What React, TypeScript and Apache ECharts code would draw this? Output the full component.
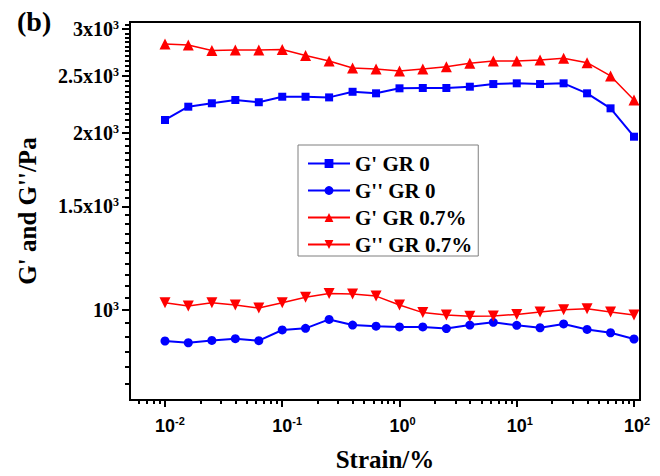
import React, { useEffect, useRef } from "react";
import * as echarts from "echarts";

// Strain (%) sampled at 5 points per decade
const strain = [
  0.01, 0.0158, 0.0251, 0.0398, 0.0631, 0.1, 0.158, 0.251, 0.398, 0.631, 1,
  1.58, 2.51, 3.98, 6.31, 10, 15.8, 25.1, 39.8, 63.1, 100,
];
const gPrimeGR0 = [
  2102, 2214, 2244, 2273, 2253, 2302, 2302, 2296, 2347, 2333, 2379, 2382, 2382,
  2394, 2419, 2426, 2419, 2426, 2333, 2200, 1969,
];
const gDoublePrimeGR0 = [
  886, 880, 888, 894, 887, 925, 931, 964, 943, 939, 936, 936, 930, 943, 953,
  942, 933, 947, 927, 915, 893,
];
const gPrimeGR07 = [
  2829, 2818, 2758, 2763, 2763, 2769, 2705, 2647, 2575, 2565, 2545, 2565, 2588,
  2623, 2647, 2647, 2657, 2675, 2630, 2497, 2273,
];
const gDoublePrimeGR07 = [
  1029, 1016, 1029, 1020, 1008, 1029, 1051, 1067, 1065, 1056, 1020, 990, 981,
  976, 977, 983, 992, 1001, 1005, 992, 981,
];

const seriesNames = ["G' GR 0", "G'' GR 0", "G' GR 0.7%", "G'' GR 0.7%"];

const xMajorTicks = [0.01, 0.1, 1, 10, 100];
const xTickExponents = ["-2", "-1", "0", "1", "2"];
const yMajorTicks = [1000, 1500, 2000, 2500, 3000];
const yTickMantissas = ["", "1.5x", "2x", "2.5x", "3x"];

const xMinorTicks: number[] = [];
for (let e = -3; e <= 2; e++) {
  for (let k = 2; k <= 9; k++) xMinorTicks.push(k * Math.pow(10, e));
}
const yMinorTicks: number[] = [];
for (let v = 700; v <= 3100; v += 50) {
  if (yMajorTicks.indexOf(v) < 0) yMinorTicks.push(v);
}

const SERIF = "'Liberation Serif', 'Times New Roman', serif";
const SANS = "'Liberation Sans', Arial, sans-serif";

const X_MIN = 0.00503;
const X_MAX = 112.5;
const Y_MIN = 703.5;
const Y_MAX = 3083;

function nearestIndex(arr: number[], v: number) {
  let best = 0;
  let bd = Infinity;
  arr.forEach((a, i) => {
    const d = Math.abs(Math.log10(a) - Math.log10(v));
    if (d < bd) {
      bd = d;
      best = i;
    }
  });
  return best;
}

export default function App() {
  const ref = useRef<HTMLDivElement>(null);
  useEffect(() => {
    if (!ref.current) return;
    const chart = echarts.init(ref.current, undefined, { renderer: "svg" });
    const data = (ys: number[]) => strain.map((x, i) => [x, ys[i]]);
    const blue = "#0000ff";
    const red = "#ff0000";
    const option: any = {
      animation: false,
      backgroundColor: "#fff",
      title: {
        text: "(b)",
        left: 12,
        top: 2,
        textStyle: {
          fontFamily: SERIF,
          fontWeight: "bold",
          fontSize: 28,
          color: "#000",
        },
      },
      grid: {
        left: 130,
        right: 20,
        top: 22,
        bottom: 76,
        show: true,
        borderColor: "#000",
        borderWidth: 2,
        backgroundColor: "transparent",
        containLabel: false,
        outerBoundsMode: "none",
      },
      legend: {
        orient: "vertical",
        left: 298,
        top: 145,
        padding: [8, 6, 1, 9],
        itemWidth: 42,
        itemHeight: 11,
        itemGap: 6,
        backgroundColor: "#fff",
        borderColor: "#7f7f7f",
        borderWidth: 1,
        borderRadius: 0,
        textStyle: {
          fontFamily: SERIF,
          fontWeight: "bold",
          fontSize: 21,
          lineHeight: 20,
          color: "#000",
        },
        data: seriesNames,
      },
      xAxis: [
        {
          type: "log",
          logBase: 10,
          min: X_MIN,
          max: X_MAX,
          position: "bottom",
          name: "Strain/%",
          nameLocation: "middle",
          nameGap: 47,
          nameTextStyle: {
            fontFamily: SERIF,
            fontWeight: "bold",
            fontSize: 25,
            color: "#000",
          },
          axisLine: {
            show: true,
            onZero: false,
            lineStyle: { color: "#000", width: 2 },
          },
          axisTick: {
            show: true,
            inside: false,
            length: 7,
            customValues: xMajorTicks,
            lineStyle: { color: "#000", width: 2 },
          },
          axisLabel: {
            show: true,
            customValues: xMajorTicks,
            margin: 15,
            color: "#000",
            formatter: (v: number) => {
              const i = nearestIndex(xMajorTicks, v);
              const e = xTickExponents[i];
              const pad = e.length > 1 ? "pw2" : "pw1";
              return `{${pad}|}{b|10}{s|${e}}`;
            },
            rich: {
              b: {
                fontFamily: SANS,
                fontWeight: "bold",
                fontSize: 18,
                color: "#000",
                lineHeight: 20,
                verticalAlign: "bottom",
              },
              s: {
                fontFamily: SANS,
                fontWeight: "bold",
                fontSize: 11,
                color: "#000",
                lineHeight: 20,
                verticalAlign: "top",
              },
              pw1: { width: 6 },
              pw2: { width: 10 },
            },
          },
          splitLine: { show: false },
          minorTick: { show: false },
        },
        {
          type: "log",
          logBase: 10,
          min: X_MIN,
          max: X_MAX,
          position: "bottom",
          axisLine: { show: false, onZero: false },
          axisTick: {
            show: true,
            inside: false,
            length: 4,
            customValues: xMinorTicks.filter((v) => v > X_MIN && v < X_MAX),
            lineStyle: { color: "#000", width: 2 },
          },
          axisLabel: { show: false },
          splitLine: { show: false },
        },
      ],
      yAxis: [
        {
          type: "log",
          logBase: 10,
          min: Y_MIN,
          max: Y_MAX,
          position: "left",
          name: "G' and G''/Pa",
          nameLocation: "middle",
          nameGap: 90,
          nameTextStyle: {
            fontFamily: SERIF,
            fontWeight: "bold",
            fontSize: 25,
            color: "#000",
          },
          axisLine: {
            show: true,
            onZero: false,
            lineStyle: { color: "#000", width: 2 },
          },
          axisTick: {
            show: true,
            inside: false,
            length: 8,
            customValues: yMajorTicks,
            lineStyle: { color: "#000", width: 2 },
          },
          axisLabel: {
            show: true,
            customValues: yMajorTicks,
            margin: 11,
            color: "#000",
            formatter: (v: number) => {
              const i = nearestIndex(yMajorTicks, v);
              const m = yTickMantissas[i];
              return m ? `{b|${m}10}{s|3}` : `{b|10}{s|3}`;
            },
            rich: {
              b: {
                fontFamily: SERIF,
                fontWeight: "bold",
                fontSize: 20,
                color: "#000",
                lineHeight: 20,
                verticalAlign: "bottom",
              },
              s: {
                fontFamily: SERIF,
                fontWeight: "bold",
                fontSize: 12,
                color: "#000",
                lineHeight: 20,
                verticalAlign: "top",
              },
            },
          },
          splitLine: { show: false },
        },
        {
          type: "log",
          logBase: 10,
          min: Y_MIN,
          max: Y_MAX,
          position: "left",
          axisLine: { show: false, onZero: false },
          axisTick: {
            show: true,
            inside: false,
            length: 5,
            customValues: yMinorTicks.filter((v) => v > Y_MIN && v < Y_MAX),
            lineStyle: { color: "#000", width: 2 },
          },
          axisLabel: { show: false },
          splitLine: { show: false },
        },
      ],
      series: [
        {
          name: seriesNames[0],
          type: "line",
          xAxisIndex: 0,
          yAxisIndex: 0,
          data: data(gPrimeGR0),
          symbol: "rect",
          symbolSize: 8,
          color: blue,
          lineStyle: { color: blue, width: 2 },
          itemStyle: { color: blue },
        },
        {
          name: seriesNames[1],
          type: "line",
          xAxisIndex: 0,
          yAxisIndex: 0,
          data: data(gDoublePrimeGR0),
          symbol: "circle",
          symbolSize: 9,
          color: blue,
          lineStyle: { color: blue, width: 2 },
          itemStyle: { color: blue },
        },
        {
          name: seriesNames[2],
          type: "line",
          xAxisIndex: 0,
          yAxisIndex: 0,
          data: data(gPrimeGR07),
          symbol: "triangle",
          symbolSize: 11,
          color: red,
          lineStyle: { color: red, width: 1.5 },
          itemStyle: { color: red },
        },
        {
          name: seriesNames[3],
          type: "line",
          xAxisIndex: 0,
          yAxisIndex: 0,
          data: data(gDoublePrimeGR07),
          symbol: "triangle",
          symbolRotate: 180,
          symbolSize: 11,
          color: red,
          lineStyle: { color: red, width: 1.5 },
          itemStyle: { color: red },
        },
      ],
    };
    chart.setOption(option);
    return () => chart.dispose();
  }, []);
  return (
    <div
      ref={ref}
      style={{ position: "fixed", left: 0, top: 0, width: 660, height: 476 }}
    />
  );
}
